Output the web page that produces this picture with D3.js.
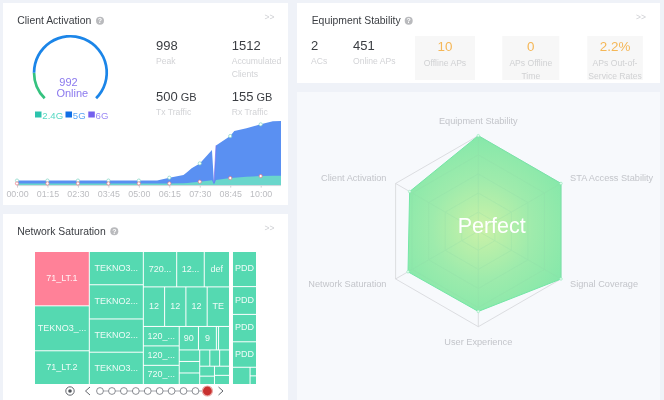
<!DOCTYPE html>
<html><head><meta charset="utf-8">
<script src="https://cdn.jsdelivr.net/npm/d3@7"></script>
<style>
html,body{margin:0;padding:0;background:#eff2f8;}
svg{display:block;font-family:"Liberation Sans",Arial,sans-serif;filter:blur(0.35px);}
</style></head><body><svg id="c" width="664" height="400"></svg>
<script>
// ---------- data ----------
const times=["00:00","01:15","02:30","03:45","05:00","05:45","06:15","06:50","07:00","07:10","07:30","07:45","08:00","08:05","08:10","08:45","08:55","09:25","10:00","10:30","10:50"];
const totalClients=[75,75,75,75,75,75,119,160,212,264,341,445,548,36,620,765,843,884,946,993,998];
const clients24G=[30,30,30,30,30,30,30,33,38,45,57,68,80,15,85,114,120,133,145,149,150];
const tickLabels=["00:00","01:15","02:30","03:45","05:00","06:15","07:30","08:45","10:00"];
const gaugeBands=["2.4G","5G","6G"];
const gaugeValues=[165,827,0];
const radarAxes=["Equipment Stability","STA Access Stability","Signal Coverage","User Experience","Network Saturation","Client Activation"];
const radarValues=[100,100,100,84,85,83];
const radarLevels=[20,40,60,80,100];
const timelineSteps=[1,2,3,4,5,6,7,8,9,10];
const activeStep=10;
const alertCells=["71_LT.1"];
// treemap cells: [label, value]; nested lists are groups
const columnA=[["71_LT.1",29],["TEKNO3_...",24],["71_LT.2",18]];
const columnB=[["TEKNO3...",17.5],["TEKNO2...",18],["TEKNO2...",17.5],["TEKNO3...",17]];
const rowC1=[["720...",11.5],["12...",9.5],["def",8.7]];
const rowC2=[["12",8.2],["12",8.2],["12",8.2],["TE",8.6]];
const stackC3=[["120_...",6.8],["120_...",6.8],["720_...",6.7]];
const rowC4=[["90",4.4],["9",4.1],["",0.5],["",2.5]];
const stackC5=[["",2.3],["",2.3],["",2.3]];
const rowC6=[["",1.6],["",1.56],["",1.56]];
const stackC7=[["",1.43],["",1.2]];
const stackC8=[["",1.34],["",1.34]];
const pddRows=[["PDD",9.1],["PDD",7.2],["PDD",7.1],["PDD",6.6]];
const pddLast=["",3.27];
const pddLastStack=[["",0.6],["",0.6]];

// ---------- helpers ----------
const svg=d3.select("#c");
const FG="#3a3d42",MUTED="#d2d3d6";
const card=(x,y,w,h,f)=>svg.append("rect").attr("x",x).attr("y",y).attr("width",w).attr("height",h).attr("fill",f);
const text=(x,y,s,size,fill,anchor)=>svg.append("text").attr("x",x).attr("y",y).text(s).attr("font-size",size).attr("fill",fill).attr("text-anchor",anchor||"start");
function header(x,y,title,helpX,moreX){
  text(x,y+3.6,title,10.4,FG);
  svg.append("circle").attr("cx",helpX).attr("cy",y).attr("r",4).attr("fill","#b9babd");
  text(helpX,y+2.6,"?",7,"#fff","middle").attr("font-weight","bold");
  text(moreX,y-0.5,">>",8.5,"#cfd0d4","middle");
}
svg.append("rect").attr("width",664).attr("height",400).attr("fill","#eff2f8");
card(3,3,285,202,"#fff");card(3,214,285,186,"#fff");card(297,3,363,80,"#fff");card(297,92,363,308,"#f7f9fc");

// ---------- client activation ----------
header(17.3,20.7,"Client Activation",100,269.5);
const toRad=d=>d*Math.PI/180;
const gAngle=d3.scaleLinear().domain([0,d3.sum(gaugeValues)]).range([toRad(-135),toRad(135)]);
const gaugeColor=d3.scaleOrdinal().domain(gaugeBands).range(["#35c27f","#1b85e8","#7b68ee"]);
const gArc=d3.arc().innerRadius(35).outerRadius(37.7);
let acc=0;
const gaugeG=svg.append("g").attr("transform","translate(70.4,72.6)");
gaugeValues.forEach((v,i)=>{
  gaugeG.append("path").attr("d",gArc({startAngle:gAngle(acc),endAngle:gAngle(acc+v)})).attr("fill",gaugeColor(gaugeBands[i]));
  acc+=v;
});
text(68.5,85.5,d3.sum(gaugeValues),11,"#8b79ee","middle");
text(72.3,96.6,"Online",11,"#8b79ee","middle");
const legendSq=["#2cc3ad","#0f6fe6","#7460ee"],legendTx=["#55d8c2","#5aa5f5","#9a88f4"],legendSqX=[35,65.5,88.3];
gaugeBands.forEach((b,i)=>{
  svg.append("rect").attr("x",legendSqX[i]).attr("y",111.5).attr("width",6.5).attr("height",6).attr("fill",legendSq[i]);
  text(legendSqX[i]+7.3,119,b,9.6,legendTx[i]);
});
const stat=(x,y,num,unit)=>{const t=text(x,y,num,13,FG);if(unit)t.append("tspan").text(" "+unit).attr("font-size",11);};
stat(156,50,"998");stat(231.7,50,"1512");stat(156,101,"500","GB");stat(231.7,101,"155","GB");
text(156,64,"Peak",8.6,MUTED);text(231.7,64,"Accumulated",8.6,MUTED);text(231.7,76.5,"Clients",8.6,MUTED);
text(156,115,"Tx Traffic",8.6,MUTED);text(231.7,115,"Rx Traffic",8.6,MUTED);

const mins=s=>{const p=s.split(":");return +p[0]*60+ +p[1];};
const xT=d3.scaleLinear().domain([0,mins(times[times.length-1])]).range([17,281]);
const yV=d3.scaleLinear().domain([0,d3.max(totalClients)]).range([185.4,121]);
const areaOf=vals=>d3.area().x((d,i)=>xT(mins(times[i]))).y0(yV(0)).y1((d,i)=>yV(vals[i]))(vals);
svg.append("path").attr("d",areaOf(totalClients)).attr("fill","#5a90f2");
svg.append("path").attr("d",areaOf(clients24G)).attr("fill","#6ad6cb");
const dipIdx=[times.indexOf("08:05"),times.indexOf("08:10")];
svg.append("path").attr("d",d3.line()(dipIdx.map(i=>[xT(mins(times[i])),yV(totalClients[i])]))).attr("fill","none").attr("stroke","#7b68ee").attr("stroke-width",.9).attr("stroke-opacity",.7);
const axis=d3.axisBottom(d3.scalePoint().domain(tickLabels).range([xT(mins(tickLabels[0])),xT(mins(tickLabels[tickLabels.length-1]))])).tickSize(2).tickPadding(3);
const ax=svg.append("g").attr("transform","translate(0,185.6)").call(axis);
ax.select(".domain").attr("stroke","#d9dadd").attr("d","M17,0H281");
ax.selectAll(".tick line").attr("stroke","#cfd0d3");
ax.selectAll(".tick text").attr("font-size",8.9).attr("fill","#bcbdc1").attr("font-family","'Liberation Sans',Arial,sans-serif");
const markTimes=tickLabels.map(t=>times.indexOf(t));
svg.selectAll("circle.tot").data(markTimes).join("circle").attr("class","tot").attr("cx",i=>xT(mins(times[i]))).attr("cy",i=>yV(totalClients[i])).attr("r",1.6).attr("fill","#fff").attr("stroke","#7fd4c4").attr("stroke-width",.7);
svg.selectAll("circle.low").data(markTimes).join("circle").attr("class","low").attr("cx",i=>xT(mins(times[i]))).attr("cy",i=>yV(clients24G[i])).attr("r",1.6).attr("fill","#fff").attr("stroke","#e8747f").attr("stroke-width",.7);

// ---------- network saturation ----------
header(17.3,231.3,"Network Saturation",114.3,269.5);
const build=x=>{
  if(typeof x[0]==="string") return {name:x[0],value:x[1]};
  return {children:x.map(build)};
};
const tree=[[[columnA,columnB,[rowC1,rowC2,[stackC3,[rowC4,[stackC5,[[rowC6,[stackC7,stackC8]]].flat()]]]]]],[...pddRows,[pddLast,pddLastStack]]];
const root=d3.hierarchy(build(tree)).sum(d=>d.value||0);
d3.treemap().tile(d3.treemapSliceDice).size([221,132]).paddingInner(n=>n.depth===0?4:1)(root);
const tm=svg.append("g").attr("transform","translate(35,252)");
const leaves=root.leaves();
tm.selectAll("rect").data(leaves).join("rect").attr("x",d=>d.x0).attr("y",d=>d.y0).attr("width",d=>d.x1-d.x0).attr("height",d=>d.y1-d.y0)
  .attr("fill",d=>alertCells.includes(d.data.name)?"#ff8198":"#55d9b1");
tm.selectAll("text").data(leaves.filter(d=>d.data.name)).join("text").attr("x",d=>(d.x0+d.x1)/2).attr("y",d=>(d.y0+d.y1)/2+2.4).attr("text-anchor","middle").attr("font-size",9).attr("fill","#fff").attr("fill-opacity",.9).text(d=>d.data.name);

// timeline
const tx=d3.scalePoint().domain(timelineSteps).range([100,207.4]);
svg.append("line").attr("x1",100).attr("x2",207).attr("y1",391).attr("y2",391).attr("stroke","#7f8389").attr("stroke-width",.7);
svg.selectAll("circle.step").data(timelineSteps).join("circle").attr("class","step").attr("cx",d=>tx(d)).attr("cy",391)
  .attr("r",d=>d===activeStep?5:3.4).attr("fill",d=>d===activeStep?"#c8302f":"#fff").attr("stroke",d=>d===activeStep?"#eaa9a6":"#6d7178").attr("stroke-width",d=>d===activeStep?1.2:.8);
svg.append("circle").attr("cx",70).attr("cy",391).attr("r",4.2).attr("fill","none").attr("stroke","#52565c").attr("stroke-width",.9);
svg.append("circle").attr("cx",70).attr("cy",391).attr("r",1.8).attr("fill","#52565c");
svg.append("path").attr("d",d3.line()([[90,387],[85.5,391],[90,395]])).attr("fill","none").attr("stroke","#52565c").attr("stroke-width",.9);
svg.append("path").attr("d",d3.line()([[218.5,387],[223,391],[218.5,395]])).attr("fill","none").attr("stroke","#52565c").attr("stroke-width",.9);

// ---------- equipment stability ----------
header(311.7,20.7,"Equipment Stability",408.7,641);
stat(311,50,"2");stat(353,50,"451");
text(311,64,"ACs",8.6,MUTED);text(353,64,"Online APs",8.6,MUTED);
const boxes=[[415,60,"10",["Offline APs"]],[502.3,57,"0",["APs Offline","Time"]],[587.3,55.5,"2.2%",["APs Out-of-","Service Rates"]]];
boxes.forEach(b=>{
  card(b[0],36,b[1],44,"#f7f7f7");
  const c=b[0]+b[1]/2;
  text(c,51,b[2],13.4,"#f5b757","middle");
  b[3].forEach((l,i)=>text(c,66+i*12.6,l,8.6,"#d0d1d3","middle"));
});

// ---------- radar ----------
const rc=[478.3,231.2];
const rScale=d3.scaleLinear().domain([0,100]).range([0,95.5]);
const ang=i=>i*Math.PI/3;
const pt=(i,v)=>[rc[0]+rScale(v)*Math.sin(ang(i)),rc[1]-rScale(v)*Math.cos(ang(i))];
const poly=vals=>d3.line()(vals.map((v,i)=>pt(i,v)))+"Z";
const defs=svg.append("defs");
const grad=defs.append("radialGradient").attr("id","rg").attr("gradientUnits","userSpaceOnUse").attr("cx",rc[0]+4).attr("cy",rc[1]-3).attr("r",92);
[[0,"#cdf1a8"],[.22,"#b9efa9"],[.55,"#9eebac"],[1,"#86e8aa"]].forEach(s=>grad.append("stop").attr("offset",s[0]).attr("stop-color",s[1]));
defs.append("clipPath").attr("id","rc").append("path").attr("d",poly(radarValues));
const drawGrid=(g,col,w)=>{
  radarLevels.forEach(l=>g.append("path").attr("d",poly(radarAxes.map(()=>l))).attr("fill","none").attr("stroke",col).attr("stroke-width",w));
  radarAxes.forEach((a,i)=>{const p=pt(i,100);g.append("line").attr("x1",rc[0]).attr("y1",rc[1]).attr("x2",p[0]).attr("y2",p[1]).attr("stroke",col).attr("stroke-width",w);});
};
drawGrid(svg.append("g"),"#d4d5d9",.8);
svg.append("path").attr("d",poly(radarValues)).attr("fill","url(#rg)").attr("stroke","#74e6a6").attr("stroke-width",1);
drawGrid(svg.append("g").attr("clip-path","url(#rc)").attr("opacity",.3),"#8fd8a8",.8);
radarValues.forEach((v,i)=>{const p=pt(i,v);svg.append("circle").attr("cx",p[0]).attr("cy",p[1]).attr("r",1.3).attr("fill","#e8fbf0").attr("stroke","#8fe9ba").attr("stroke-width",.6);});
radarAxes.forEach((a,i)=>{
  const s=Math.sin(ang(i)),vertical=Math.abs(s)<.01;
  const p=pt(i,vertical?115.5:111);
  text(p[0],p[1]+3.2,a,9.2,"#c3c5ca",vertical?"middle":(s>0?"start":"end"));
});
text(491.7,232.8,"Perfect",21.5,"#fff","middle");
</script></body></html>
